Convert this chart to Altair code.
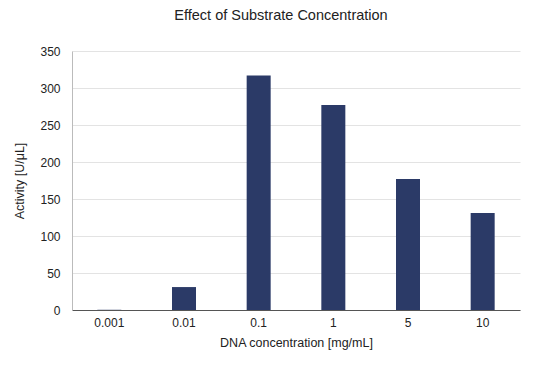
import altair as alt
import pandas as pd

categories = ["0.001", "0.01", "0.1", "1", "5", "10"]
activity = [0.3, 31, 317, 277, 177, 131]

df = pd.DataFrame({"conc": categories, "activity": activity})

FONT = "Liberation Sans"

chart = alt.Chart(df).mark_bar(color="#2b3a67", size=24).encode(
    x=alt.X("conc:N", sort=categories, title="DNA concentration [mg/mL]",
            scale=alt.Scale(paddingInner=0.68, paddingOuter=0.34),
            axis=alt.Axis(labelAngle=0, labelFont=FONT, labelFontSize=12, labelColor="#222222",
                          titleFont=FONT, titleFontSize=12.5, titleFontWeight="normal", titleColor="#222222",
                          ticks=False, domainColor="#555555", labelPadding=7, titlePadding=8)),
    y=alt.Y("activity:Q", title="Activity [U/μL]",
            scale=alt.Scale(domain=[0, 350]),
            axis=alt.Axis(values=[0, 50, 100, 150, 200, 250, 300, 350], labelFont=FONT, labelFontSize=12,
                          labelColor="#222222", titleFont=FONT, titleFontSize=12.5, titleFontWeight="normal",
                          titleColor="#222222", ticks=False, domainColor="#bbbbbb", gridColor="#e3e3e3",
                          labelPadding=12, titlePadding=13)),
).properties(
    width=448, height=259,
    title=alt.TitleParams("Effect of Substrate Concentration", font=FONT, fontSize=14.5,
                          fontWeight="normal", color="#222222", anchor="middle", dx=-15, offset=22),
    autosize=alt.AutoSizeParams(type="none"),
    padding={"left": 64, "top": 43, "right": 17, "bottom": 50},
).configure_view(stroke=None)

chart.save("out.html", embed_options={"renderer": "svg", "actions": False})
